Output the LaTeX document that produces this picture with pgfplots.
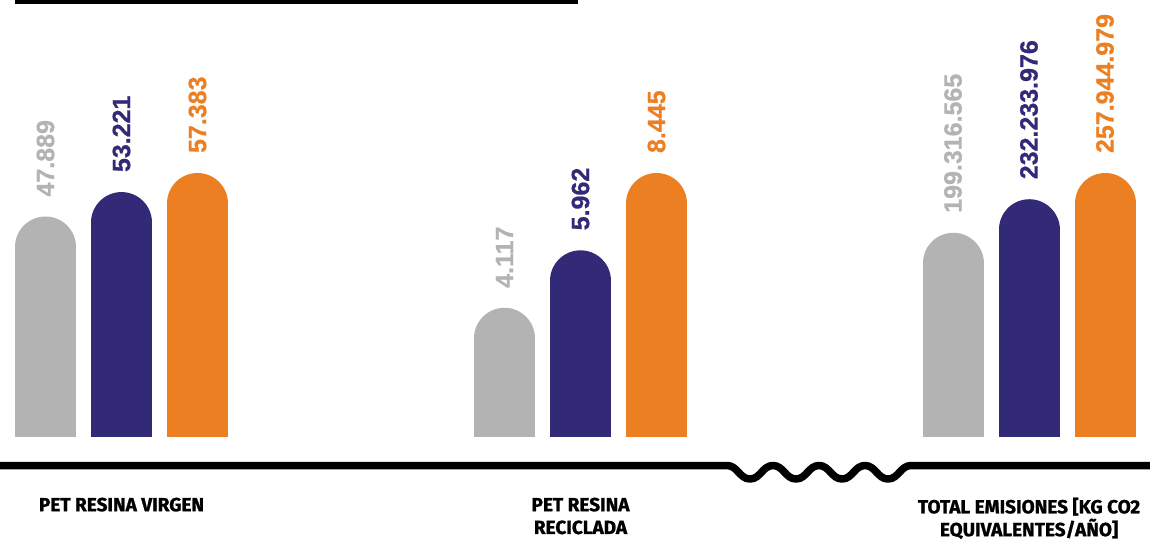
\documentclass[border=0pt]{standalone}
\usepackage{fontspec}
\usepackage{pgfplots}
\pgfplotsset{compat=1.18}
\newfontfamily\numfont{Liberation Sans}[FakeBold=0.8]
\newfontfamily\catfont{Fira Sans}[FakeBold=1.2]
\definecolor{cgray}{HTML}{B3B3B3}
\definecolor{cpurple}{HTML}{332A77}
\definecolor{corange}{HTML}{EC7F22}
\pgfplotsset{
  grp/.style={
    anchor=south west, scale only axis, width=228pt, height=436pt,
    xmin=-0.5, xmax=2.5,
    axis line style={draw=none}, major tick length=0pt, ytick=\empty, xtick={1},
    xticklabel style={anchor=north, inner sep=0pt, yshift=-61.5pt, align=center,
      font=\catfont\bfseries\fontsize{19}{22.8}\selectfont, text=black},
    point meta=explicit symbolic,
    nodes near coords,
    every node near coord/.append style={rotate=90, anchor=west, inner sep=0pt,
      outer xsep=50.5pt, outer ysep=0pt, font=\numfont\bfseries\fontsize{25}{25}\selectfont},
  },
  rbar/.style={ycomb, line width=61pt, line cap=round, mark=none, color=#1,
    every node near coord/.append style={text=#1}},
}
\begin{document}
\begin{tikzpicture}[x=1pt,y=1pt]
\useasboundingbox (0,0) rectangle (1150,539);
\fill[black] (15,534.5) rectangle (578,540);
\draw[line width=7.5pt, line join=round] (-5,73.5) -- (727,73.5)
  to[out=0,in=180] (750,60) to[out=0,in=180] (773,73.5)
  to[out=0,in=180] (796,60) to[out=0,in=180] (819,73.5)
  to[out=0,in=180] (842,60) to[out=0,in=180] (865,73.5)
  to[out=0,in=180] (888,60) to[out=0,in=180] (911,73.5) -- (1155,73.5);

\begin{axis}[grp, at={(7.5pt,103pt)}, ymin=6654.7, ymax=101783.8,
  xticklabels={{PET RESINA VIRGEN}}]
\addplot[rbar=cgray] coordinates {(0,47889) [47.889]};
\addplot[rbar=cpurple] coordinates {(1,53221) [53.221]};
\addplot[rbar=corange] coordinates {(2,57383) [57.383]};
\end{axis}

\begin{axis}[grp, at={(466.5pt,103pt)}, ymin=979.4, ymax=14979.3,
  xticklabels={{PET RESINA\\RECICLADA}}]
\addplot[rbar=cgray] coordinates {(0,4117) [4.117]};
\addplot[rbar=cpurple] coordinates {(1,5962) [5.962]};
\addplot[rbar=corange] coordinates {(2,8445) [8.445]};
\end{axis}

\begin{axis}[grp, at={(915pt,103pt)}, ymin=29913772, ymax=457533590,
  xticklabels={{TOTAL EMISIONES [KG CO2\\EQUIVALENTES/AÑO]}}]
\addplot[rbar=cgray] coordinates {(0,199316565) [199.316.565]};
\addplot[rbar=cpurple] coordinates {(1,232233976) [232.233.976]};
\addplot[rbar=corange] coordinates {(2,257944979) [257.944.979]};
\end{axis}
\end{tikzpicture}
\end{document}
